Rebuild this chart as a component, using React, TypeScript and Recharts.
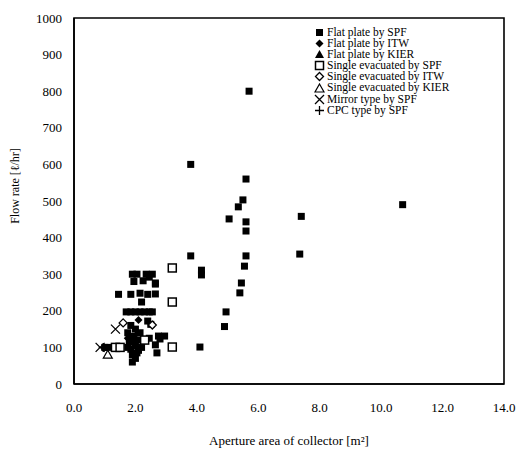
import { ScatterChart, Scatter, XAxis, YAxis, Legend, ReferenceArea } from "recharts";

interface Pt {
  x: number;
  y: number;
}

type Kind = "square" | "diamond" | "triangle" | "openSquare" | "openDiamond" | "openTriangle" | "cross" | "plus";

const xTicks = [0, 2, 4, 6, 8, 10, 12, 14];
const yTicks = [0, 100, 200, 300, 400, 500, 600, 700, 800, 900, 1000];

// Flat plate by SPF
const flatSpf: Pt[] = [
  { x: 5.7, y: 800 }, { x: 3.8, y: 600 }, { x: 5.6, y: 560 }, { x: 10.7, y: 490 },
  { x: 5.5, y: 503 }, { x: 5.35, y: 484 }, { x: 7.4, y: 458 }, { x: 5.05, y: 451 },
  { x: 5.6, y: 443 }, { x: 5.6, y: 418 }, { x: 7.35, y: 355 }, { x: 5.6, y: 350 },
  { x: 3.8, y: 350 }, { x: 5.55, y: 322 }, { x: 4.15, y: 311 }, { x: 4.15, y: 298 },
  { x: 5.45, y: 276 }, { x: 5.4, y: 249 }, { x: 4.95, y: 197 }, { x: 4.9, y: 157 },
  { x: 4.1, y: 101 },
  { x: 2.55, y: 300 }, { x: 2.65, y: 273 }, { x: 2.65, y: 246 }, { x: 2.55, y: 197 },
  { x: 2.95, y: 131 }, { x: 2.8, y: 123 }, { x: 2.65, y: 107 }, { x: 2.7, y: 85 },
  { x: 1.9, y: 300 }, { x: 2.05, y: 300 }, { x: 2.35, y: 300 }, { x: 2.45, y: 292 },
  { x: 1.95, y: 280 }, { x: 2.25, y: 282 }, { x: 2.65, y: 276 },
  { x: 1.45, y: 245 }, { x: 1.85, y: 245 }, { x: 2.15, y: 248 }, { x: 2.4, y: 245 },
  { x: 2.2, y: 224 },
  { x: 1.7, y: 197 }, { x: 1.85, y: 197 }, { x: 2.0, y: 197 }, { x: 2.15, y: 197 },
  { x: 2.3, y: 197 }, { x: 2.45, y: 197 },
  { x: 2.4, y: 172 }, { x: 2.5, y: 163 }, { x: 1.85, y: 160 }, { x: 2.0, y: 150 },
  { x: 1.75, y: 140 }, { x: 1.95, y: 130 }, { x: 2.1, y: 120 }, { x: 1.8, y: 115 },
  { x: 2.0, y: 105 }, { x: 1.85, y: 95 }, { x: 2.1, y: 92 }, { x: 1.9, y: 80 },
  { x: 2.0, y: 70 }, { x: 1.9, y: 60 }, { x: 2.2, y: 100 }, { x: 1.75, y: 100 },
  { x: 1.0, y: 100 }, { x: 1.1, y: 100 }, { x: 2.75, y: 131 }, { x: 2.45, y: 125 },
  { x: 1.8, y: 130 }, { x: 2.05, y: 85 }, { x: 1.95, y: 115 }, { x: 2.15, y: 140 },
];

const flatItw: Pt[] = [{ x: 2.1, y: 175 }, { x: 1.75, y: 125 }];
const flatKier: Pt[] = [{ x: 2.05, y: 140 }];
const evacSpf: Pt[] = [
  { x: 3.2, y: 317 }, { x: 3.2, y: 224 }, { x: 3.2, y: 101 },
  { x: 1.35, y: 100 }, { x: 1.5, y: 100 }, { x: 2.3, y: 120 },
];
const evacItw: Pt[] = [{ x: 1.6, y: 167 }, { x: 2.55, y: 161 }];
const evacKier: Pt[] = [{ x: 1.1, y: 80 }];
const mirrorSpf: Pt[] = [{ x: 1.35, y: 150 }, { x: 0.85, y: 100 }];
const cpcSpf: Pt[] = [{ x: 0.95, y: 100 }];

const seriesList: { name: string; kind: Kind; data: Pt[] }[] = [
  { name: "Flat plate by SPF", kind: "square", data: flatSpf },
  { name: "Flat plate by ITW", kind: "diamond", data: flatItw },
  { name: "Flat plate by KIER", kind: "triangle", data: flatKier },
  { name: "Single evacuated by SPF", kind: "openSquare", data: evacSpf },
  { name: "Single evacuated by ITW", kind: "openDiamond", data: evacItw },
  { name: "Single evacuated by KIER", kind: "openTriangle", data: evacKier },
  { name: "Mirror type by SPF", kind: "cross", data: mirrorSpf },
  { name: "CPC type by SPF", kind: "plus", data: cpcSpf },
];

const FONT = '"Liberation Serif", "Times New Roman", serif';

const Marker = ({ kind, cx, cy }: { kind: Kind; cx: number; cy: number }) => {
  switch (kind) {
    case "square":
      return <rect x={cx - 3.5} y={cy - 3.5} width={7} height={7} fill="#000" />;
    case "diamond":
      return <polygon points={`${cx},${cy - 4} ${cx + 4},${cy} ${cx},${cy + 4} ${cx - 4},${cy}`} fill="#000" />;
    case "triangle":
      return <polygon points={`${cx},${cy - 4.5} ${cx + 4.5},${cy + 3.5} ${cx - 4.5},${cy + 3.5}`} fill="#000" />;
    case "openSquare":
      return <rect x={cx - 4} y={cy - 4} width={8} height={8} fill="#fff" stroke="#000" strokeWidth={1.5} />;
    case "openDiamond":
      return (
        <polygon
          points={`${cx},${cy - 4} ${cx + 4},${cy} ${cx},${cy + 4} ${cx - 4},${cy}`}
          fill="#fff"
          stroke="#000"
          strokeWidth={1.3}
        />
      );
    case "openTriangle":
      return (
        <polygon
          points={`${cx},${cy - 4.5} ${cx + 4.5},${cy + 3.5} ${cx - 4.5},${cy + 3.5}`}
          fill="#fff"
          stroke="#000"
          strokeWidth={1.2}
        />
      );
    case "cross":
      return (
        <path
          d={`M${cx - 4.5},${cy - 4.5}L${cx + 4.5},${cy + 4.5}M${cx + 4.5},${cy - 4.5}L${cx - 4.5},${cy + 4.5}`}
          stroke="#000"
          strokeWidth={1.3}
        />
      );
    case "plus":
      return <path d={`M${cx - 4.5},${cy}L${cx + 4.5},${cy}M${cx},${cy - 4.5}L${cx},${cy + 4.5}`} stroke="#000" strokeWidth={1.3} />;
  }
  return null;
};

const LegendBox = () => (
  <div style={{ fontFamily: FONT, fontSize: 11.5, lineHeight: "11.2px", color: "#000" }}>
    {seriesList.map((s) => (
      <div key={s.name} style={{ display: "flex", alignItems: "center", height: 11.2, whiteSpace: "nowrap" }}>
        <svg width={11} height={11} style={{ marginRight: 2, flexShrink: 0 }}>
          <Marker kind={s.kind} cx={5.5} cy={5.5} />
        </svg>
        <span>{s.name}</span>
      </div>
    ))}
  </div>
);

const YTitle = () => (
  <text
    x={15}
    y={186}
    transform="rotate(-90 15 186)"
    textAnchor="middle"
    dominantBaseline="central"
    fontSize={12}
    fontFamily={FONT}
    fill="#000"
  >
    Flow rate [ℓ/hr]
  </text>
);

const App = () => {
  return (
    <div style={{ position: "absolute", left: 0, top: 0, width: 519, height: 449, fontFamily: FONT }}>
      <ScatterChart width={519} height={449} margin={{ top: 18, right: 15, bottom: 0, left: 0 }}>
        <XAxis
          type="number"
          dataKey="x"
          domain={[0, 14]}
          ticks={xTicks}
          height={65}
          tickFormatter={(v: number) => v.toFixed(1)}
          axisLine={{ stroke: "#000", strokeWidth: 1.6 }}
          tickLine={false}
          tickSize={6}
          tickMargin={13}
          tick={{ fill: "#000", fontSize: 13, fontFamily: FONT }}
          label={{
            value: "Aperture area of collector [m²]",
            position: "insideBottom",
            offset: 4,
            fill: "#000",
            fontSize: 13,
            fontFamily: FONT,
          }}
        />
        <YAxis
          type="number"
          dataKey="y"
          domain={[0, 1000]}
          ticks={yTicks}
          width={74}
          axisLine={{ stroke: "#000", strokeWidth: 1.6 }}
          tickLine={false}
          tickSize={6}
          tickMargin={6}
          tick={{ fill: "#000", fontSize: 13, fontFamily: FONT }}
          label={{ content: () => <YTitle /> }}
        />
        <ReferenceArea x1={0} x2={14} y1={0} y2={1000} fill="none" stroke="#000" strokeWidth={1.6} />
        {seriesList.map((s) => (
          <Scatter
            key={s.name}
            name={s.name}
            data={s.data}
            isAnimationActive={false}
            shape={(p: any) => <Marker kind={s.kind} cx={p.cx} cy={p.cy} />}
          />
        ))}
        <Legend
          layout="vertical"
          align="center"
          verticalAlign="middle"
          content={() => <LegendBox />}
          wrapperStyle={{ top: 26.5, left: 314, width: "auto" }}
        />
      </ScatterChart>
    </div>
  );
};

export default App;
